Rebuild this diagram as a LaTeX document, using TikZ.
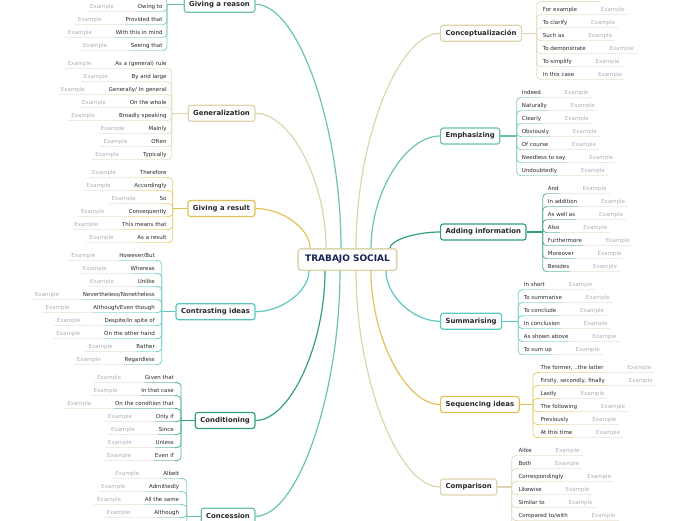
\documentclass[tikz,border=0pt]{standalone}
\usepackage{fontspec}
\setmainfont{DejaVu Sans}
\usetikzlibrary{positioning,calc}

\definecolor{cgreen}{RGB}{108,196,165}
\definecolor{cbeige}{RGB}{222,212,176}
\definecolor{cyellow}{RGB}{226,194,84}
\definecolor{cturq}{RGB}{90,200,192}
\definecolor{cdkgreen}{RGB}{50,158,130}
\definecolor{cnavy}{RGB}{24,36,88}
\definecolor{ctext}{RGB}{40,40,40}
\definecolor{cex}{RGB}{175,175,175}
\definecolor{culine}{RGB}{240,235,220}

\begin{document}
\begin{tikzpicture}[x=1pt, y=-1pt,
        main/.style={
        draw=cbeige, line width=1.5pt, rounded corners=3pt,
        fill=white, text=cnavy, inner xsep=7pt, minimum height=21.5pt,
        font=\fontsize{9}{9}\selectfont\bfseries},
        topic/.style={
        draw=#1, line width=1.2pt, rounded corners=2.5pt,
        fill=white, text=ctext, inner xsep=5pt, minimum height=16pt,
        font=\fontsize{6.9}{7}\selectfont\bfseries},
        kw/.style={
        text=ctext, inner xsep=0.5pt, inner ysep=1.8pt,
        text height=4pt, text depth=1.2pt,
        font=\fontsize{5.5}{6}\selectfont},
        ex/.style={kw, text=cex, inner xsep=3pt},
        link/.style={draw=#1, line width=1.2pt},
        branch/.style={draw=#1!80, line width=0.8pt, rounded corners=4pt},
        ul/.style={draw=#1!45, line width=0.8pt},
        ulex/.style={draw=culine, line width=0.8pt},
        ]

        \useasboundingbox (0,0) rectangle (696,520);

        \node[main] (main) at (347.5,259.5) {TRABAJO SOCIAL};

        % left side
        \node[topic=cgreen, anchor=east] (reason) at (255.5,4.3) {Giving a reason};
        \coordinate (reasonF) at (167,4.3);
        \coordinate (reasonH) at (163,-1.5);
        \draw[link=cgreen] (reason) -- (reasonF);
        \draw[branch=cgreen] (reasonF) |- (reasonH);
        \foreach \w [count=\i] in {Owing to, Provided that, With this in mind, Seeing that}{
            \node[kw, anchor=east] (reason\i) at (163.2,{-6+13*\i}) {\w};
            \node[ex, left=20pt of reason\i] (reasonx\i) {Example};
            \draw[branch=cgreen] (reasonF) |- (reason\i.south east);
            \draw[ul=cgreen] (reason\i.south west) -- (reason\i.south east);
            \draw[ulex] (reasonx\i.south west) -- (reason\i.south west);
        }

        \node[topic=cbeige, anchor=east] (general) at (255.5,113.3) {Generalization};
        \coordinate (generalF) at (171.7,113.3);
        \draw[link=cbeige] (general) -- (generalF);
        \foreach \w [count=\i] in {{As a (general) rule}, By and large, Generally/ In general, On the whole, Broadly speaking, Mainly, Often, Typically}{
            \node[kw, anchor=east] (general\i) at (167.2,{51+13*\i}) {\w};
            \node[ex, left=20pt of general\i] (generalx\i) {Example};
            \draw[branch=cbeige] (generalF) |- (general\i.south east);
            \draw[ul=cbeige] (general\i.south west) -- (general\i.south east);
            \draw[ulex] (generalx\i.south west) -- (general\i.south west);
        }

        \node[topic=cyellow, anchor=east] (result) at (255.5,208.5) {Giving a result};
        \coordinate (resultF) at (172.7,208.5);
        \draw[link=cyellow] (result) -- (resultF);
        \foreach \w [count=\i] in {Therefore, Accordingly, So, Consequently, This means that, As a result}{
            \node[kw, anchor=east] (result\i) at (167.2,{160+13*\i}) {\w};
            \node[ex, left=20pt of result\i] (resultx\i) {Example};
            \draw[branch=cyellow] (resultF) |- (result\i.south east);
            \draw[ul=cyellow] (result\i.south west) -- (result\i.south east);
            \draw[ulex] (resultx\i.south west) -- (result\i.south west);
        }

        \node[topic=cturq, anchor=east] (contrast) at (255.5,311.7) {Contrasting ideas};
        \coordinate (contrastF) at (161.7,311.7);
        \draw[link=cturq] (contrast) -- (contrastF);
        \foreach \w [count=\i] in {However/But, Whereas, Unlike, Nevertheless/Nonetheless, Although/Even though, Despite/In spite of, On the other hand, Rather, Regardless}{
            \node[kw, anchor=east] (contrast\i) at (155.5,{243+13*\i}) {\w};
            \node[ex, left=20pt of contrast\i] (contrastx\i) {Example};
            \draw[branch=cturq] (contrastF) |- (contrast\i.south east);
            \draw[ul=cturq] (contrast\i.south west) -- (contrast\i.south east);
            \draw[ulex] (contrastx\i.south west) -- (contrast\i.south west);
        }

        \node[topic=cdkgreen, anchor=east] (condition) at (255.5,420.5) {Conditioning};
        \coordinate (conditionF) at (181,420.5);
        \draw[link=cdkgreen] (condition) -- (conditionF);
        \foreach \w [count=\i] in {Given that, In that case, On the condition that, Only if, Since, Unless, Even if}{
            \node[kw, anchor=east] (condition\i) at (174.5,{365+13*\i}) {\w};
            \node[ex, left=20pt of condition\i] (conditionx\i) {Example};
            \draw[branch=cdkgreen] (conditionF) |- (condition\i.south east);
            \draw[ul=cdkgreen] (condition\i.south west) -- (condition\i.south east);
            \draw[ulex] (conditionx\i.south west) -- (condition\i.south west);
        }

        \node[topic=cgreen, anchor=east] (concession) at (255.5,516.3) {Concession};
        \coordinate (concessionF) at (186.7,516.3);
        \coordinate (concessionH) at (179.8,530.5);
        \draw[link=cgreen] (concession) -- (concessionF);
        \draw[branch=cgreen] (concessionF) |- (concessionH);
        \foreach \w [count=\i] in {Albeit, Admittedly, All the same, Although}{
            \node[kw, anchor=east] (concession\i) at (179.8,{461+13*\i}) {\w};
            \node[ex, left=20pt of concession\i] (concessionx\i) {Example};
            \draw[branch=cgreen] (concessionF) |- (concession\i.south east);
            \draw[ul=cgreen] (concession\i.south west) -- (concession\i.south east);
            \draw[ulex] (concessionx\i.south west) -- (concession\i.south west);
        }

        % right side
        \node[topic=cbeige, anchor=west] (concept) at (440,33.3) {Conceptualización};
        \coordinate (conceptF) at (536.7,33.3);
        \coordinate (conceptH) at (600,1.5);
        \draw[link=cbeige] (concept) -- (conceptF);
        \draw[branch=cbeige] (conceptF) |- (conceptH);
        \foreach \w [count=\i] in {For example, To clarify, Such as, To demonstrate, To simplify, In this case}{
            \node[kw, anchor=west] (concept\i) at (542.2,{-3+13*\i}) {\w};
            \node[ex, right=20pt of concept\i] (conceptx\i) {Example};
            \draw[branch=cbeige] (conceptF) |- (concept\i.south west);
            \draw[ul=cbeige] (concept\i.south west) -- (concept\i.south east);
            \draw[ulex] (concept\i.south east) -- (conceptx\i.south east);
        }

        \node[topic=cgreen, anchor=west] (emph) at (440,136) {Emphasizing};
        \coordinate (emphF) at (516.7,136);
        \draw[link=cgreen] (emph) -- (emphF);
        \foreach \w [count=\i] in {Indeed, Naturally, Clearly, Obviously, Of course, Needless to say, Undoubtedly}{
            \node[kw, anchor=west] (emph\i) at (521.2,{80+13*\i}) {\w};
            \node[ex, right=20pt of emph\i] (emphx\i) {Example};
            \draw[branch=cgreen] (emphF) |- (emph\i.south west);
            \draw[ul=cgreen] (emph\i.south west) -- (emph\i.south east);
            \draw[ulex] (emph\i.south east) -- (emphx\i.south east);
        }

        \node[topic=cdkgreen, anchor=west] (adding) at (440,232) {Adding information};
        \coordinate (addingF) at (542.7,232);
        \draw[link=cdkgreen] (adding) -- (addingF);
        \foreach \w [count=\i] in {And, In addition, As well as, Also, Furthermore, Moreover, Besides}{
            \node[kw, anchor=west] (adding\i) at (547.2,{176+13*\i}) {\w};
            \node[ex, right=20pt of adding\i] (addingx\i) {Example};
            \draw[branch=cdkgreen] (addingF) |- (adding\i.south west);
            \draw[ul=cdkgreen] (adding\i.south west) -- (adding\i.south east);
            \draw[ulex] (adding\i.south east) -- (addingx\i.south east);
        }

        \node[topic=cturq, anchor=west] (summ) at (440,321.3) {Summarising};
        \coordinate (summF) at (518.3,321.3);
        \draw[link=cturq] (summ) -- (summF);
        \foreach \w [count=\i] in {In short, To summarise, To conclude, In conclusion, As shown above, To sum up}{
            \node[kw, anchor=west] (summ\i) at (523.2,{272+13*\i}) {\w};
            \node[ex, right=20pt of summ\i] (summx\i) {Example};
            \draw[branch=cturq] (summF) |- (summ\i.south west);
            \draw[ul=cturq] (summ\i.south west) -- (summ\i.south east);
            \draw[ulex] (summ\i.south east) -- (summx\i.south east);
        }

        \node[topic=cyellow, anchor=west] (seq) at (440,404.5) {Sequencing ideas};
        \coordinate (seqF) at (533,404.5);
        \draw[link=cyellow] (seq) -- (seqF);
        \foreach \w [count=\i] in {{The former, ..the latter}, {Firstly, secondly, finally}, Lastly, The following, Previously, At this time}{
            \node[kw, anchor=west] (seq\i) at (539.8,{355+13*\i}) {\w};
            \node[ex, right=20pt of seq\i] (seqx\i) {Example};
            \draw[branch=cyellow] (seqF) |- (seq\i.south west);
            \draw[ul=cyellow] (seq\i.south west) -- (seq\i.south east);
            \draw[ulex] (seq\i.south east) -- (seqx\i.south east);
        }

        \node[topic=cbeige, anchor=west] (comp) at (440,487) {Comparison};
        \coordinate (compF) at (511.7,487);
        \coordinate (compH) at (517.8,533.5);
        \draw[link=cbeige] (comp) -- (compF);
        \draw[branch=cbeige] (compF) |- (compH);
        \foreach \w [count=\i] in {Alike, Both, Correspondingly, Likewise, Similar to, Compared to/with}{
            \node[kw, anchor=west] (comp\i) at (517.8,{438+13*\i}) {\w};
            \node[ex, right=20pt of comp\i] (compx\i) {Example};
            \draw[branch=cbeige] (compF) |- (comp\i.south west);
            \draw[ul=cbeige] (comp\i.south west) -- (comp\i.south east);
            \draw[ulex] (comp\i.south east) -- (compx\i.south east);
        }

        % main links
        \draw[link=cgreen] (reason.east) .. controls (298.3,4.3) and (341,126.7) .. ($(main.north)+(-6.5,0)$);
        \draw[link=cbeige] (general.east) .. controls (290.8,113.3) and (326,181) .. ($(main.north)+(-21.5,0)$);
        \draw[link=cyellow] (result.east) .. controls (282.8,208.5) and (310,228.8) .. ($(main.north)+(-37.5,0)$);
        \draw[link=cbeige] (concept.west) .. controls (398,33.3) and (356,141) .. ($(main.north)+(8.5,0)$);
        \draw[link=cgreen] (emph.west) .. controls (405.5,136) and (371,192.5) .. ($(main.north)+(23.5,0)$);
        \draw[link=cdkgreen] (adding.west) .. controls (415,232) and (390,240.5) .. ($(main.north)+(42.5,0)$);
        \draw[link=cturq] (contrast.east) .. controls (282,311.7) and (309,290.8) .. ($(main.south)+(-38.5,0)$);
        \draw[link=cdkgreen] (condition.east) .. controls (290,420.5) and (325,345) .. ($(main.south)+(-22.5,0)$);
        \draw[link=cgreen] (concession.east) .. controls (298,516.3) and (340,393) .. ($(main.south)+(-7.5,0)$);
        \draw[link=cbeige] (comp.west) .. controls (398,487) and (356,378.5) .. ($(main.south)+(8.5,0)$);
        \draw[link=cyellow] (seq.west) .. controls (405.5,404.5) and (371,337) .. ($(main.south)+(23.5,0)$);
        \draw[link=cturq] (summ.west) .. controls (413,321.3) and (386,295.6) .. ($(main.south)+(38.5,0)$);
    \end{tikzpicture}
\end{document}
